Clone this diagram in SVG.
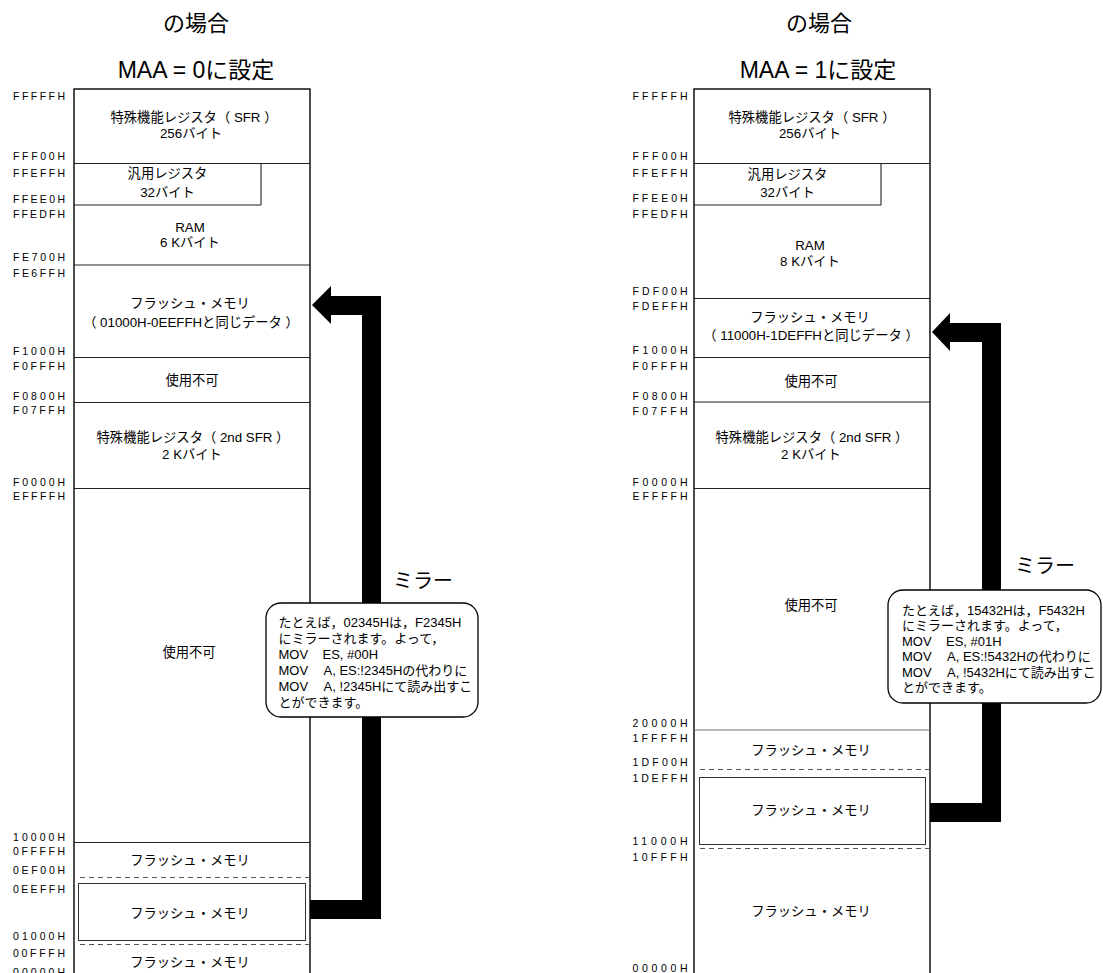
<svg xmlns="http://www.w3.org/2000/svg" width="1103" height="973" viewBox="0 0 1103 973">
<style>
text{font-family:"Liberation Sans","Noto Sans CJK JP",sans-serif;fill:#000}
.t{font-size:22px;text-anchor:middle}
.t2{font-size:23px;text-anchor:middle}
.a{font-size:10.5px}
.b{font-size:13.3px;text-anchor:middle}
.c{font-size:13px}
.m{font-size:20px}
.frame{fill:none;stroke:#000;stroke-width:1.4}
.div{stroke:#222;stroke-width:1.1;fill:none}
.dash{stroke:#555;stroke-width:1;stroke-dasharray:5 4;fill:none}
.inner{fill:none;stroke:#333;stroke-width:1}
.arr{fill:none;stroke:#000;stroke-width:19;stroke-linejoin:miter}
.call{fill:#fff;stroke:#000;stroke-width:1.3}
</style>
<rect width="1103" height="973" fill="#fff"/>

<g id="titles">
<text class="t" x="196" y="31">の場合</text>
<text class="t2" x="196" y="78">MAA = 0に設定</text>
<text class="t" x="819" y="31">の場合</text>
<text class="t2" x="818" y="78">MAA = 1に設定</text>
</g>

<g id="left-map">
<rect class="frame" x="74" y="89" width="236" height="910"/>
<path class="div" d="M74 163.5H310 M261 163.5V205 M74 205H261 M74 265H310 M74 357.5H310 M74 402.5H310 M74 488.5H310 M74 842.5H310"/>
<path class="dash" d="M80 877.5H310 M80 944.5H310"/>
<rect class="inner" x="78.5" y="883.5" width="227" height="57"/>
</g>

<g id="right-map">
<rect class="frame" x="694" y="89" width="236" height="910"/>
<path class="div" d="M694 163.5H930 M881 163.5V205 M694 205H881 M694 298.5H930 M694 357.5H930 M694 402H930 M694 488.5H930"/>
<path d="M694 730H930" stroke="#777" stroke-width="1.2"/>
<path class="dash" d="M700 769.5H930 M700 848.5H930"/>
<rect class="inner" x="699.5" y="777.5" width="226" height="67"/>
</g>

<g id="left-labels">
<text x="13" y="100" textLength="52" class="a">FFFFFH</text>
<text x="13" y="159.5" textLength="52" class="a">FFF00H</text>
<text x="13" y="177" textLength="52" class="a">FFEFFH</text>
<text x="13" y="203" textLength="52" class="a">FFEE0H</text>
<text x="13" y="218" textLength="52" class="a">FFEDFH</text>
<text x="13" y="261" textLength="52" class="a">FE700H</text>
<text x="13" y="277" textLength="52" class="a">FE6FFH</text>
<text x="13" y="355" textLength="52" class="a">F1000H</text>
<text x="13" y="369.5" textLength="52" class="a">F0FFFH</text>
<text x="13" y="400" textLength="52" class="a">F0800H</text>
<text x="13" y="413.5" textLength="52" class="a">F07FFH</text>
<text x="13" y="486" textLength="52" class="a">F0000H</text>
<text x="13" y="500" textLength="52" class="a">EFFFFH</text>
<text x="13" y="841" textLength="52" class="a">10000H</text>
<text x="13" y="855" textLength="52" class="a">0FFFFH</text>
<text x="13" y="874" textLength="52" class="a">0EF00H</text>
<text x="13" y="892.5" textLength="52" class="a">0EEFFH</text>
<text x="13" y="940" textLength="52" class="a">01000H</text>
<text x="13" y="957" textLength="52" class="a">00FFFH</text>
<text x="13" y="975.5" textLength="52" class="a">00000H</text>
</g>

<g id="right-labels">
<text x="632.5" y="100" textLength="55" class="a">FFFFFH</text>
<text x="632.5" y="159.5" textLength="55" class="a">FFF00H</text>
<text x="632.5" y="177" textLength="55" class="a">FFEFFH</text>
<text x="632.5" y="202" textLength="55" class="a">FFEE0H</text>
<text x="632.5" y="218" textLength="55" class="a">FFEDFH</text>
<text x="632.5" y="295" textLength="55" class="a">FDF00H</text>
<text x="632.5" y="310" textLength="55" class="a">FDEFFH</text>
<text x="632.5" y="354" textLength="55" class="a">F1000H</text>
<text x="632.5" y="370" textLength="55" class="a">F0FFFH</text>
<text x="632.5" y="400" textLength="55" class="a">F0800H</text>
<text x="632.5" y="414.5" textLength="55" class="a">F07FFH</text>
<text x="632.5" y="486" textLength="55" class="a">F0000H</text>
<text x="632.5" y="500" textLength="55" class="a">EFFFFH</text>
<text x="632.5" y="726.5" textLength="55" class="a">20000H</text>
<text x="632.5" y="742" textLength="55" class="a">1FFFFH</text>
<text x="632.5" y="766" textLength="55" class="a">1DF00H</text>
<text x="632.5" y="782" textLength="55" class="a">1DEFFH</text>
<text x="632.5" y="845" textLength="55" class="a">11000H</text>
<text x="632.5" y="861" textLength="55" class="a">10FFFH</text>
<text x="632.5" y="972" textLength="55" class="a">00000H</text>
</g>

<g id="left-sfr"><text class="b" x="194" y="121.5">特殊機能レジスタ（ SFR ）</text><text class="b" x="191" y="138">256バイト</text></g>
<g id="left-gpr"><text class="b" x="167.5" y="178">汎用レジスタ</text><text class="b" x="167.5" y="196.5">32バイト</text></g>
<g id="left-ram"><text class="b" x="190" y="231.5">RAM</text><text class="b" x="190" y="246.5">6 Kバイト</text></g>
<g id="left-mirror"><text class="b" x="190" y="308">フラッシュ・メモリ</text><text class="b" x="191" y="326.5">（ 01000H-0EEFFHと同じデータ ）</text></g>
<g id="left-na1"><text class="b" x="192" y="385">使用不可</text></g>
<g id="left-sfr2"><text class="b" x="193" y="441.5">特殊機能レジスタ（ 2nd SFR ）</text><text class="b" x="192" y="459">2 Kバイト</text></g>
<g id="left-na2"><text class="b" x="189" y="656.5">使用不可</text></g>
<g id="left-flash1"><text class="b" x="190" y="865">フラッシュ・メモリ</text></g>
<g id="left-flash2"><text class="b" x="190" y="918">フラッシュ・メモリ</text></g>
<g id="left-flash3"><text class="b" x="190" y="966.5">フラッシュ・メモリ</text></g>

<g id="right-sfr"><text class="b" x="812" y="121.5">特殊機能レジスタ（ SFR ）</text><text class="b" x="810" y="138">256バイト</text></g>
<g id="right-gpr"><text class="b" x="787.5" y="178.5">汎用レジスタ</text><text class="b" x="787.5" y="196.5">32バイト</text></g>
<g id="right-ram"><text class="b" x="810" y="250">RAM</text><text class="b" x="810" y="265.5">8 Kバイト</text></g>
<g id="right-mirror"><text class="b" x="810" y="321.5">フラッシュ・メモリ</text><text class="b" x="811" y="340">（ 11000H-1DEFFHと同じデータ ）</text></g>
<g id="right-na1"><text class="b" x="811" y="385.5">使用不可</text></g>
<g id="right-sfr2"><text class="b" x="812" y="441.5">特殊機能レジスタ（ 2nd SFR ）</text><text class="b" x="811" y="459">2 Kバイト</text></g>
<g id="right-na2"><text class="b" x="811" y="610">使用不可</text></g>
<g id="right-flash1"><text class="b" x="811" y="755">フラッシュ・メモリ</text></g>
<g id="right-flash2"><text class="b" x="811" y="815">フラッシュ・メモリ</text></g>
<g id="right-flash3"><text class="b" x="811" y="915.5">フラッシュ・メモリ</text></g>

<g id="connectors">
<polyline class="arr" points="310,909.5 371.5,909.5 371.5,305.5 329,305.5"/>
<polygon points="312,305 331,286 331,324" fill="#000"/>
<polyline class="arr" points="930,812.5 991.5,812.5 991.5,332.5 948,332.5"/>
<polygon points="932,332 950,313 950,351" fill="#000"/>
</g>

<g id="left-callout">
<text class="m" x="393" y="587.5">ミラー</text>
<rect class="call" x="266" y="603" width="212" height="114" rx="15"/>
<text class="c" x="278.5" y="626.5">たとえば，02345Hは，F2345H</text>
<text class="c" x="278.5" y="642.5">にミラーされます。よって，</text>
<text class="c" x="278.5" y="658.5">MOV<tspan x="322.5">ES, #00H</tspan></text>
<text class="c" x="278.5" y="674.5">MOV<tspan x="323.5">A, ES:!2345Hの代わりに</tspan></text>
<text class="c" x="278.5" y="690.5">MOV<tspan x="323.5">A, !2345Hにて読み出すこ</tspan></text>
<text class="c" x="278.5" y="706.5">とができます。</text>
</g>

<g id="right-callout">
<text class="m" x="1015" y="572.5">ミラー</text>
<rect class="call" x="888" y="590" width="213" height="113" rx="15"/>
<text class="c" x="902" y="614.5">たとえば，15432Hは，F5432H</text>
<text class="c" x="902" y="630">にミラーされます。よって，</text>
<text class="c" x="902" y="645.5">MOV<tspan x="946">ES, #01H</tspan></text>
<text class="c" x="902" y="661">MOV<tspan x="947">A, ES:!5432Hの代わりに</tspan></text>
<text class="c" x="902" y="676.5">MOV<tspan x="947">A, !5432Hにて読み出すこ</tspan></text>
<text class="c" x="902" y="692">とができます。</text>
</g>
</svg>
